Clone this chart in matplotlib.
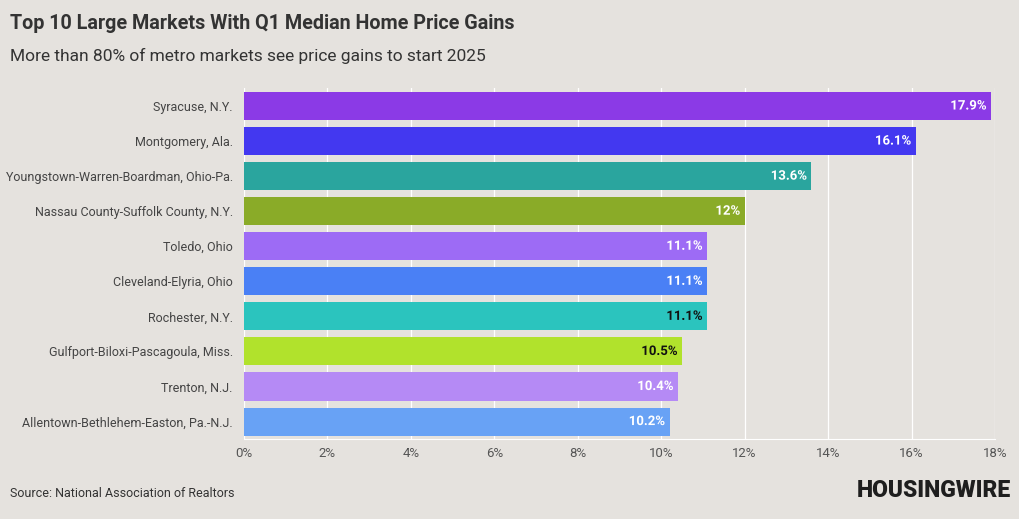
import matplotlib
matplotlib.use("Agg")
import matplotlib.pyplot as plt
import matplotlib.patheffects as pe
from matplotlib.ticker import FuncFormatter

plt.rcParams['font.family'] = ['Roboto', 'DejaVu Sans']

markets = ["Syracuse, N.Y.", "Montgomery, Ala.", "Youngstown-Warren-Boardman, Ohio-Pa.",
           "Nassau County-Suffolk County, N.Y.", "Toledo, Ohio", "Cleveland-Elyria, Ohio",
           "Rochester, N.Y.", "Gulfport-Biloxi-Pascagoula, Miss.", "Trenton, N.J.",
           "Allentown-Bethlehem-Easton, Pa.-N.J."]
gains = [17.9, 16.1, 13.6, 12.0, 11.1, 11.1, 11.1, 10.5, 10.4, 10.2]
labels = ["17.9%", "16.1%", "13.6%", "12%", "11.1%", "11.1%", "11.1%", "10.5%", "10.4%", "10.2%"]
colors = ["#8B3AE6", "#4338F0", "#2AA59E", "#8AAB28", "#9D6BF5",
          "#4A80F5", "#2BC4BE", "#B1E22C", "#B58AF5", "#68A2F5"]
text_colors = ["white", "white", "white", "white", "white",
               "white", "#111111", "#111111", "white", "white"]

bg = "#E5E2DE"
fig = plt.figure(figsize=(10.2, 5.19), dpi=100, facecolor=bg)
ax = fig.add_axes([0.2392, 0.154, 0.7363, 0.6755])
ax.set_facecolor(bg)

y = range(len(markets))
ax.barh(y, gains, height=0.8, color=colors, zorder=2)
for i, v in enumerate(gains):
    ax.text(v - 0.1, i, labels[i], ha="right", va="center", fontsize=9.5,
            fontweight="bold", color=text_colors[i], zorder=3,
            path_effects=[pe.withStroke(linewidth=3, foreground=colors[i])])

ax.set_ylim(9.5, -0.5)
ax.set_xlim(0, 18)
ax.set_xticks(range(0, 19, 2))
ax.xaxis.set_major_formatter(FuncFormatter(lambda v, p: f"{int(v)}%"))
ax.set_yticks(list(y))
ax.set_yticklabels(markets, fontsize=9)
ax.grid(axis="x", color="white", linewidth=0.9, zorder=1)
for s in ["top", "right", "left"]:
    ax.spines[s].set_visible(False)
ax.spines["bottom"].set_color("white")
ax.tick_params(axis="both", length=0)
ax.tick_params(axis="x", labelsize=9.5, pad=6, colors="#555555")
ax.tick_params(axis="y", pad=8, colors="#444444")

fig.text(0.0098, 0.955, "Top 10 Large Markets With Q1 Median Home Price Gains",
         fontsize=14.2, fontweight="bold", color="#333333", va="center")
fig.text(0.0098, 0.893, "More than 80% of metro markets see price gains to start 2025",
         fontsize=12.5, color="#333333", va="center")
fig.text(0.0098, 0.05, "Source: National Association of Realtors",
         fontsize=9, color="#333333", va="center")
fig.text(0.991, 0.055, "HOUSINGWIRE", fontsize=16.5, fontweight="heavy",
         color="#1E1E1E", ha="right", va="center")

fig.savefig("out.png", dpi=100, facecolor=bg)
